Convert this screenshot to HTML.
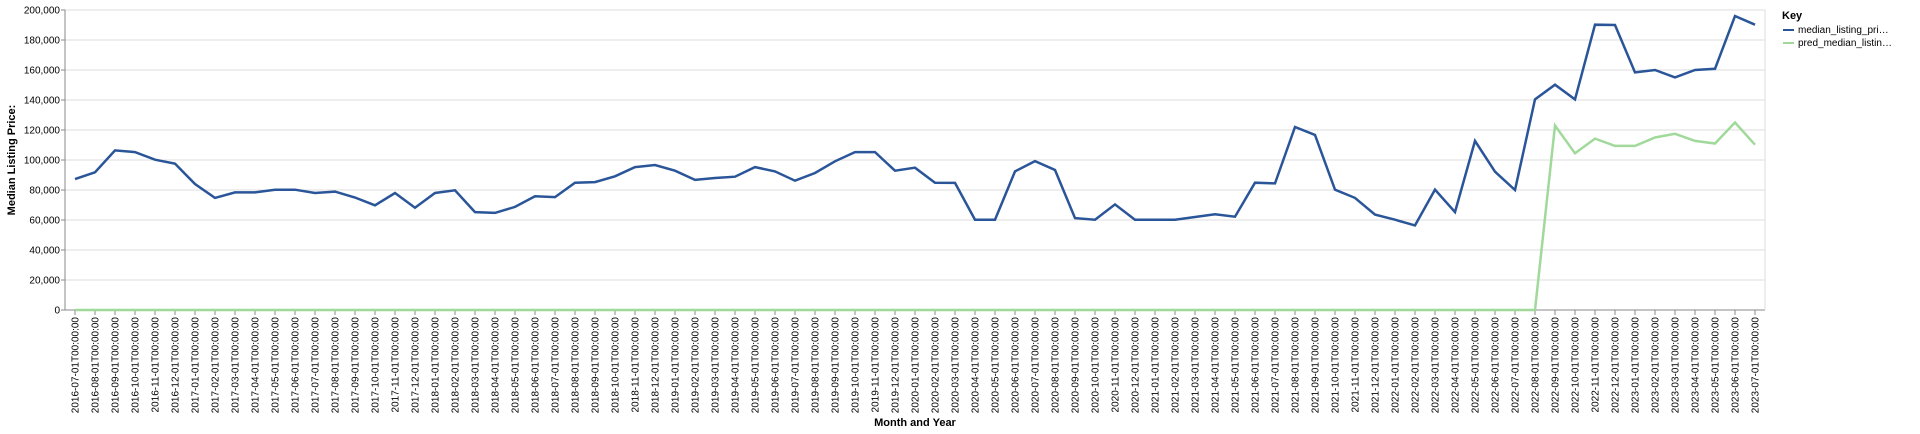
<!DOCTYPE html>
<html><head><meta charset="utf-8"><style>
html,body{margin:0;padding:0;background:#fff;width:1920px;height:434px;overflow:hidden}
svg{display:block;font-family:"Liberation Sans",sans-serif}
</style></head><body>
<svg id="chart" width="1920" height="434"></svg>
<script>
const months=[];for(let y=2016,m=7;!(y===2023&&m===8);){months.push(y+"-"+String(m).padStart(2,"0")+"-01T00:00:00");m++;if(m>12){m=1;y++;}}
const medianValues=[87.3,91.8,106.4,105.3,100.2,97.6,84,74.7,78.4,78.4,80.2,80.2,78,78.9,75,69.8,78,68.2,78,79.8,65.3,64.7,68.7,75.8,75.3,84.9,85.3,89.1,95.3,96.7,92.9,86.7,88,88.9,95.3,92.4,86.2,91.3,99.1,105.3,105.3,92.9,94.9,84.9,84.7,60.2,60.2,92.4,99.3,93.3,61.3,60.2,70.4,60.2,60.2,60.2,62,63.8,62.2,84.9,84.4,122,116.7,80.2,74.7,63.6,60.2,56.4,80.2,65.3,112.7,92.2,80,140.4,150.2,140.4,190.2,190,158.4,160,155.1,160,160.8,196,190.2].map(v=>v*1000);
const predValues=medianValues.map((v,i)=>0);
const predTail=[123,104.5,114.3,109.4,109.4,115,117.5,112.7,111,125,110.2];
for(let k=0;k<predTail.length;k++)predValues[74+k]=predTail[k]*1000;
const yTicks=[0,20000,40000,60000,80000,100000,120000,140000,160000,180000,200000];
const L=65,R=1765,T=10,B=310;
const NS="http://www.w3.org/2000/svg";
const svg=document.getElementById('chart');
function el(t,a,p){const e=document.createElementNS(NS,t);for(const k in a)e.setAttribute(k,a[k]);(p||svg).appendChild(e);return e;}
const step=(R-L)/months.length;
const xS=i=>L+step*(i+0.5);
const yS=v=>B-(v/200000)*(B-T);
yTicks.forEach(t=>{
  const g=el('line',{x1:L,x2:R,y1:yS(t),y2:yS(t),stroke:'#ddd','stroke-width':1});
  
  const tx=el('text',{x:L-5,y:yS(t)+3.5,'text-anchor':'end','font-size':10,fill:'#000'});tx.textContent=t.toLocaleString('en-US');
  
  el('line',{x1:L-4,x2:L,y1:yS(t),y2:yS(t),stroke:'#888'});
});
months.forEach((m,i)=>{
  el('line',{x1:xS(i),x2:xS(i),y1:B,y2:B+5,stroke:'#888'});
  const tx=el('text',{transform:`translate(${xS(i)+3.5},${B+7}) rotate(-90)`,'text-anchor':'end','font-size':10,fill:'#000'});tx.textContent=m;
  
});
const ax=el('line',{x1:L,x2:L,y1:T,y2:B,stroke:'#888'});
const bx=el('line',{x1:L,x2:R,y1:B,y2:B,stroke:'#888'});
el('line',{x1:R,x2:R,y1:T,y2:B,stroke:'#ddd'});
function line(vals,color,name){const p=el('path',{d:vals.map((v,i)=>(i?'L':'M')+xS(i).toFixed(1)+','+yS(v).toFixed(1)).join(''),fill:'none',stroke:color,'stroke-width':2.5,'stroke-linejoin':'miter'});}
line(predValues,'#a1d99b','pred-median-line');
line(medianValues,'#2a5599','median-listing-price-line');
const yt=el('text',{transform:`translate(15,${(T+B)/2}) rotate(-90)`,'text-anchor':'middle','font-size':11,'font-weight':'bold'});yt.textContent='Median Listing Price:';

const xt=el('text',{x:(L+R)/2,y:426,'text-anchor':'middle','font-size':11,'font-weight':'bold'});xt.textContent='Month and Year';

const kt=el('text',{x:1782,y:19,'font-size':11,'font-weight':'bold'});kt.textContent='Key';

[['median_listing_pri…','#2a5599'],['pred_median_listin…','#a1d99b']].forEach((d,k)=>{
  const y=33+k*13;
  const s=el('line',{x1:1783,x2:1794,y1:y-3,y2:y-3,stroke:d[1],'stroke-width':2});
  
  const t=el('text',{x:1798,y:y,'font-size':10});t.textContent=d[0];
  
});
</script>
</body></html>
